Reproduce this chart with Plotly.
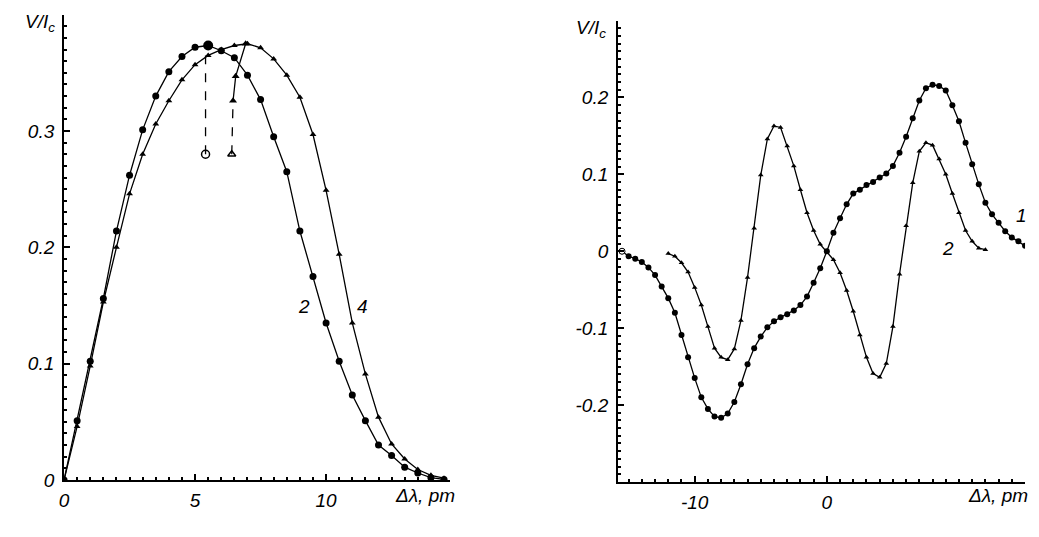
import plotly.graph_objects as go

# ── Left panel: V/Ic vs Δλ, curves 2 and 4 ───────────────────────────────────
left_x = [0, 0.5, 1, 1.5, 2, 2.5, 3, 3.5, 4, 4.5, 5, 5.5, 6, 6.5, 7, 7.5,
          8, 8.5, 9, 9.5, 10, 10.5, 11, 11.5, 12, 12.5, 13, 13.5, 14, 14.5]
curve2_left = [0, 0.051, 0.102, 0.156, 0.214, 0.262, 0.301, 0.330, 0.351, 0.364,
               0.372, 0.3735, 0.369, 0.363, 0.348, 0.327, 0.295, 0.265, 0.214, 0.175,
               0.135, 0.102, 0.073, 0.051, 0.030, 0.021, 0.011, 0.006, 0.002, 0.0005]
curve4_left = [0, 0.046, 0.098, 0.153, 0.200, 0.246, 0.280, 0.306, 0.326, 0.344,
               0.357, 0.365, 0.370, 0.3735, 0.375, 0.3715, 0.362, 0.348, 0.329, 0.297,
               0.249, 0.194, 0.135, 0.091, 0.054, 0.031, 0.018, 0.009, 0.004, 0.0015]

# branches ending in the open markers
branch_a_x = [5.4, 5.4]
branch_a_y = [0.280, 0.365]
branch_b_dash_x = [6.4, 6.45]
branch_b_dash_y = [0.280, 0.326]
branch_b_x = [6.45, 6.55, 6.93]
branch_b_y = [0.326, 0.347, 0.375]

# ── Right panel: curves 1 and 2 ──────────────────────────────────────────────
c1_x = [-15.5] + [-15 + 0.5 * i for i in range(61)]
curve1_right = [0.0,
                -0.0065, -0.0096, -0.014, -0.021, -0.031, -0.046, -0.061, -0.080, -0.109, -0.138,
                -0.165, -0.190, -0.205, -0.215, -0.2165, -0.211, -0.196, -0.173, -0.147, -0.126,
                -0.111, -0.099, -0.091, -0.086, -0.082, -0.077, -0.070, -0.059, -0.041, -0.022,
                0.0, 0.024, 0.043, 0.061, 0.075, 0.080, 0.086, 0.090, 0.096, 0.101,
                0.111, 0.128, 0.149, 0.173, 0.196, 0.212, 0.2165, 0.215, 0.209, 0.190,
                0.169, 0.141, 0.113, 0.087, 0.063, 0.048, 0.037, 0.026, 0.018, 0.013,
                0.007]
c2_x = [-12 + 0.5 * i for i in range(49)]
curve2_right = [-0.003, -0.0065, -0.015, -0.027, -0.047, -0.070, -0.098, -0.126, -0.138, -0.141,
                -0.127, -0.090, -0.034, 0.030, 0.099, 0.146, 0.163, 0.161, 0.137, 0.111,
                0.080, 0.050, 0.027, 0.009, -0.001, -0.011, -0.028, -0.051, -0.078, -0.109,
                -0.138, -0.159, -0.164, -0.146, -0.098, -0.030, 0.033, 0.089, 0.130, 0.141,
                0.138, 0.120, 0.100, 0.075, 0.050, 0.027, 0.013, 0.004, 0.002]

left_yticks = [0, 0.1, 0.2, 0.3]
left_yticktext = ['0', '0.1', '0.2', '0.3']
left_xticks = [0, 5, 10]
right_yticks = [-0.2, -0.1, 0, 0.1, 0.2]
right_yticktext = ['-0.2', '-0.1', '0', '0.1', '0.2']
right_xticks = [-10, 0]
right_xticktext = ['-10', '0']

INK = 'black'
FONT = 'Liberation Sans'
TICKFONT = dict(family=FONT, size=19, color=INK, style='italic')
LW = 1.3

fig = go.Figure()


def dots(symbol, size):
    return dict(symbol=symbol, size=size, color=INK, opacity=1, line=dict(width=0))


fig.add_trace(go.Scatter(x=left_x, y=curve2_left, mode='lines+markers',
                         line=dict(color=INK, width=LW), marker=dots('circle', 7),
                         xaxis='x', yaxis='y', showlegend=False))
# enlarged dot at the maximum of curve 2
i_max = curve2_left.index(max(curve2_left))
fig.add_trace(go.Scatter(x=[left_x[i_max]], y=[curve2_left[i_max]], mode='markers',
                         marker=dots('circle', 10), xaxis='x', yaxis='y', showlegend=False))
fig.add_trace(go.Scatter(x=left_x, y=curve4_left, mode='lines+markers',
                         line=dict(color=INK, width=LW), marker=dots('triangle-up', 6),
                         xaxis='x', yaxis='y', showlegend=False))
fig.add_trace(go.Scatter(x=branch_a_x, y=branch_a_y, mode='lines',
                         line=dict(color=INK, width=LW, dash='dash'),
                         xaxis='x', yaxis='y', showlegend=False))
fig.add_trace(go.Scatter(x=branch_a_x[:1], y=branch_a_y[:1], mode='markers',
                         marker=dict(symbol='circle-open', size=8, color=INK, line=dict(width=1.5)),
                         xaxis='x', yaxis='y', showlegend=False))
fig.add_trace(go.Scatter(x=branch_b_dash_x, y=branch_b_dash_y, mode='lines',
                         line=dict(color=INK, width=LW, dash='dash'),
                         xaxis='x', yaxis='y', showlegend=False))
fig.add_trace(go.Scatter(x=branch_b_x, y=branch_b_y, mode='lines+markers',
                         line=dict(color=INK, width=LW), marker=dots('triangle-up', 7),
                         xaxis='x', yaxis='y', showlegend=False))
fig.add_trace(go.Scatter(x=branch_b_dash_x[:1], y=branch_b_dash_y[:1], mode='markers',
                         marker=dict(symbol='triangle-up-open', size=7, color=INK, line=dict(width=1.5)),
                         xaxis='x', yaxis='y', showlegend=False))

fig.add_trace(go.Scatter(x=c1_x, y=curve1_right, mode='lines+markers',
                         line=dict(color=INK, width=LW), marker=dots('circle', 6),
                         xaxis='x2', yaxis='y2', showlegend=False))
fig.add_trace(go.Scatter(x=c1_x[:1], y=curve1_right[:1], mode='markers',
                         marker=dict(symbol='circle', size=6, color='white', line=dict(color=INK, width=1)),
                         xaxis='x2', yaxis='y2', showlegend=False))
fig.add_trace(go.Scatter(x=c2_x, y=curve2_right, mode='lines+markers',
                         line=dict(color=INK, width=LW), marker=dots('triangle-up', 5),
                         xaxis='x2', yaxis='y2', showlegend=False))

axis_common = dict(showline=True, linecolor=INK, linewidth=2, showgrid=False,
                   zeroline=False, ticks='inside', ticklen=6, tickwidth=1.5,
                   tickcolor=INK, tickfont=TICKFONT, tickmode='array')

fig.update_layout(
    width=1039, height=537,
    margin=dict(l=0, r=0, t=0, b=0),
    paper_bgcolor='white', plot_bgcolor='white',
    xaxis=dict(axis_common, domain=[0.0571, 0.4299], range=[0, 14.71],
               tickvals=left_xticks, ticktext=[str(v) for v in left_xticks],
               minor=dict(dtick=0.5, tick0=0, ticks='inside', ticklen=3, tickcolor=INK),
               anchor='y', ticklabelstandoff=2),
    yaxis=dict(axis_common, domain=[0.0875, 0.9721], range=[0, 0.4],
               tickvals=left_yticks, ticktext=left_yticktext,
               minor=dict(dtick=0.01, tick0=0, ticks='inside', ticklen=3, tickcolor=INK),
               anchor='x', ticklabelstandoff=4),
    xaxis2=dict(axis_common, domain=[0.5929, 0.9865], range=[-15.8, 15.0],
                tickvals=right_xticks, ticktext=right_xticktext,
                minor=dict(dtick=1, tick0=0, ticks='inside', ticklen=3, tickcolor=INK),
                anchor='y2', ticklabelstandoff=2),
    yaxis2=dict(axis_common, domain=[0.0838, 0.9609], range=[-0.3, 0.3],
                tickvals=right_yticks, ticktext=right_yticktext,
                minor=dict(dtick=0.01, tick0=0, ticks='inside', ticklen=3, tickcolor=INK),
                anchor='x2', ticklabelstandoff=4),
)

label_font = dict(family=FONT, size=19, color=INK)
annots = [
    dict(text='<i>V/I<sub>c</sub></i>', xref='paper', yref='paper', x=52 / 1039, y=1 - 23 / 537,
         xanchor='right', yanchor='middle'),
    dict(text='<i>Δλ, pm</i>', xref='paper', yref='paper', x=454 / 1039, y=1 - 506 / 537,
         xanchor='right', yanchor='middle'),
    dict(text='<i>V/I<sub>c</sub></i>', xref='paper', yref='paper', x=606 / 1039, y=1 - 30 / 537,
         xanchor='right', yanchor='middle'),
    dict(text='<i>Δλ, pm</i>', xref='paper', yref='paper', x=1030 / 1039, y=1 - 506 / 537,
         xanchor='right', yanchor='middle'),
    dict(text='<i>2</i>', xref='x', yref='y', x=9.14, y=0.149),
    dict(text='<i>4</i>', xref='x', yref='y', x=11.38, y=0.149),
    dict(text='<i>1</i>', xref='x2', yref='y2', x=14.75, y=0.047),
    dict(text='<i>2</i>', xref='x2', yref='y2', x=9.2, y=0.004),
]
for a in annots:
    fig.add_annotation(showarrow=False, font=label_font, **a)

# page body has a default 8px margin; drop it so the figure sits at the window origin
fig.write_html('out.html', config={'displayModeBar': False},
               post_script="document.body.style.margin='0px';")
